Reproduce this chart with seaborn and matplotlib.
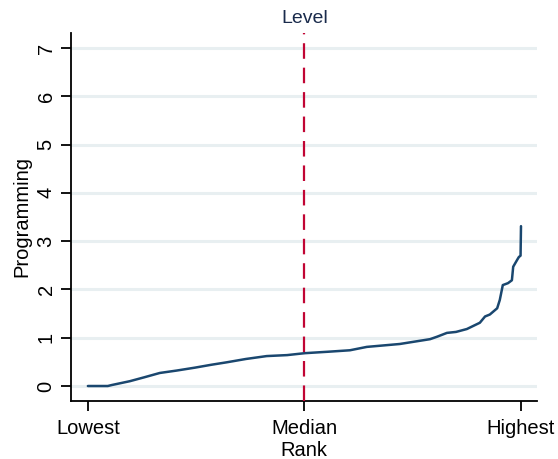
import numpy as np
import pandas as pd
import seaborn as sns
import matplotlib.pyplot as plt

# sorted values against rank (0 = lowest, 1 = highest)
rank = [0.0, 0.046, 0.055, 0.097, 0.130, 0.166, 0.205, 0.247, 0.285,
        0.320, 0.365, 0.413, 0.460, 0.501, 0.555, 0.605, 0.644, 0.720,
        0.790, 0.806, 0.829, 0.850, 0.875, 0.905, 0.917, 0.928, 0.945,
        0.951, 0.958, 0.970, 0.979, 0.982, 0.991, 0.995, 0.999, 1.0]
programming = [0.0, 0.0, 0.02, 0.10, 0.18, 0.27, 0.32, 0.38, 0.44,
               0.49, 0.56, 0.62, 0.64, 0.68, 0.71, 0.74, 0.81, 0.87,
               0.97, 1.02, 1.10, 1.12, 1.18, 1.31, 1.44, 1.48, 1.61,
               1.78, 2.09, 2.13, 2.19, 2.47, 2.61, 2.67, 2.70, 3.31]
xticks = [0, 0.5, 1]
xticklabels = ["Lowest", "Median", "Highest"]
median_rank = 0.5

df = pd.DataFrame({"rank": rank, "Programming": programming})

sns.set_style("white")
plt.rcParams["font.family"] = ["Liberation Sans", "DejaVu Sans"]
plt.rcParams["text.color"] = "black"
plt.rcParams["axes.labelcolor"] = "black"

fig = plt.figure(figsize=(5.58, 4.59), dpi=100)
ax = fig.add_axes([0.1272, 0.1264, 0.8352, 0.8017])

for y in range(0, 8):
    ax.axhline(y, color="#e8eff1", lw=2.2, zorder=0)

sns.lineplot(data=df, x="rank", y="Programming", color="#1a476f", lw=1.8, ax=ax)
ax.axvline(median_rank, color="#c10534", lw=1.6, dashes=(7, 4), zorder=3)
ax.text(median_rank, 1.015, "Level", transform=ax.get_xaxis_transform(),
        ha="center", va="bottom", fontsize=14, color="#1a2b4c")

ax.set_xlim(-0.039, 1.037)
ax.set_ylim(-0.31, 7.31)
ax.set_yticks(range(0, 8))
ax.set_yticklabels([str(v) for v in range(0, 8)], rotation=90, va="center")
ax.set_xticks(xticks)
ax.set_xticklabels(xticklabels)
ax.tick_params(axis="both", direction="out", length=7, width=1.3,
               labelsize=14.5, color="black", labelcolor="black",
               left=True, bottom=True, pad=4)
ax.tick_params(axis="x", pad=6)
ax.set_xlabel("Rank", fontsize=14.5, labelpad=2)
ax.set_ylabel("Programming", fontsize=14.5, labelpad=4)

sns.despine(ax=ax)
for s in ["left", "bottom"]:
    ax.spines[s].set_color("black")
    ax.spines[s].set_linewidth(1.3)

fig.savefig("out.png", dpi=100)
